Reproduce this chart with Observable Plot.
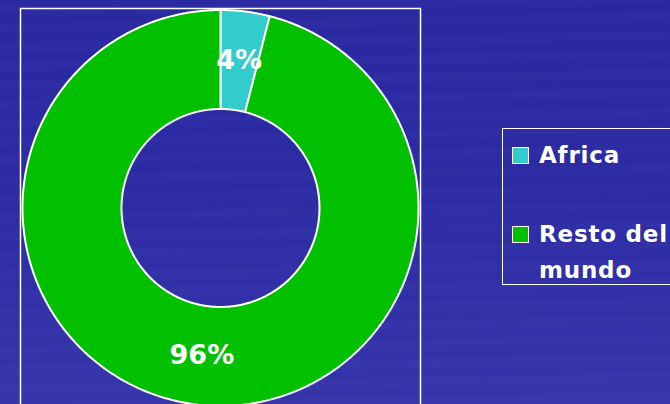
<!DOCTYPE html>
<html><head><meta charset="utf-8">
<script src="https://cdn.jsdelivr.net/npm/d3@7"></script>
<script src="https://cdn.jsdelivr.net/npm/@observablehq/plot@0.6"></script>
<style>
html,body{margin:0;padding:0;width:670px;height:404px;overflow:hidden;}
body{position:relative;font-family:"DejaVu Sans",Verdana,sans-serif;
 background:
  repeating-linear-gradient(179deg, rgba(255,255,255,0) 0px, rgba(255,255,255,0.02) 9px, rgba(255,255,255,0) 19px),
  linear-gradient(to bottom,#2a28a0 0%,#2b2aa4 45%,#3534aa 100%);}
#chart{position:absolute;left:0;top:0;}
#chart svg{background:transparent;overflow:hidden;}
#legend{position:absolute;left:502px;top:128px;width:190px;height:157px;border:1.5px solid #fff;box-sizing:border-box;color:#fff;font-weight:bold;font-size:23px;letter-spacing:0.8px;}
.item{position:absolute;left:9px;display:flex;align-items:flex-start;}
.sw{width:15px;height:15px;border:1.5px solid #fff;margin-right:10px;margin-top:1px;flex:none;}
.lab{line-height:36px;margin-top:-9px;}
</style></head>
<body>
<div id="chart"></div>
<div id="legend"></div>
<script>
const categories = ["Africa", "Resto del mundo"];
const shares = [4, 96];
const labels = ["4%", "96%"];
const colors = ["#33CCCC", "#00C000"];
const legendLines = [["Africa"], ["Resto del", "mundo"]];

const innerR = 0.5, outerR = 1;
const arcs = d3.pie().sort(null)(shares);
const pts = [];
const labelPts = [];
arcs.forEach((a, i) => {
  const n = Math.max(2, Math.ceil((a.endAngle - a.startAngle) / 0.01));
  for (let k = 0; k <= n; k++) {
    const t = a.startAngle + (a.endAngle - a.startAngle) * k / n;
    pts.push({cat: categories[i], x: outerR * Math.sin(t), y: outerR * Math.cos(t)});
  }
  for (let k = n; k >= 0; k--) {
    const t = a.startAngle + (a.endAngle - a.startAngle) * k / n;
    pts.push({cat: categories[i], x: innerR * Math.sin(t), y: innerR * Math.cos(t)});
  }
  const m = (a.startAngle + a.endAngle) / 2, r = (innerR + outerR) / 2;
  labelPts.push({text: labels[i], x: r * Math.sin(m), y: r * Math.cos(m)});
});

const plot = Plot.plot({
  width: 670, height: 404,
  marginLeft: 20, marginRight: 250, marginTop: 8, marginBottom: -4,
  style: {background: "transparent"},
  x: {domain: [-1, 1], range: [22, 418], axis: null},
  y: {domain: [-1, 1], range: [405.5, 9.5], axis: null},
  color: {domain: categories, range: colors},
  marks: [
    Plot.frame({stroke: "white", strokeWidth: 1.5}),
    Plot.line(pts, {x: "x", y: "y", z: "cat", fill: "cat", stroke: "white", strokeWidth: 2, curve: "linear-closed"}),
    Plot.text(labelPts, {x: "x", y: "y", text: "text", fill: "white", fontSize: 27, fontWeight: "bold", fontFamily: "DejaVu Sans, Verdana, sans-serif", letterSpacing: 1})
  ]
});
document.getElementById("chart").appendChild(plot);

const legend = document.getElementById("legend");
const tops = [17, 96];
categories.forEach((c, i) => {
  const it = document.createElement("div");
  it.className = "item";
  it.style.top = tops[i] + "px";
  const sw = document.createElement("div");
  sw.className = "sw";
  sw.style.background = colors[i];
  const lab = document.createElement("div");
  lab.className = "lab";
  lab.innerHTML = legendLines[i].join("<br>");
  it.appendChild(sw); it.appendChild(lab);
  legend.appendChild(it);
});
</script>
</body></html>
